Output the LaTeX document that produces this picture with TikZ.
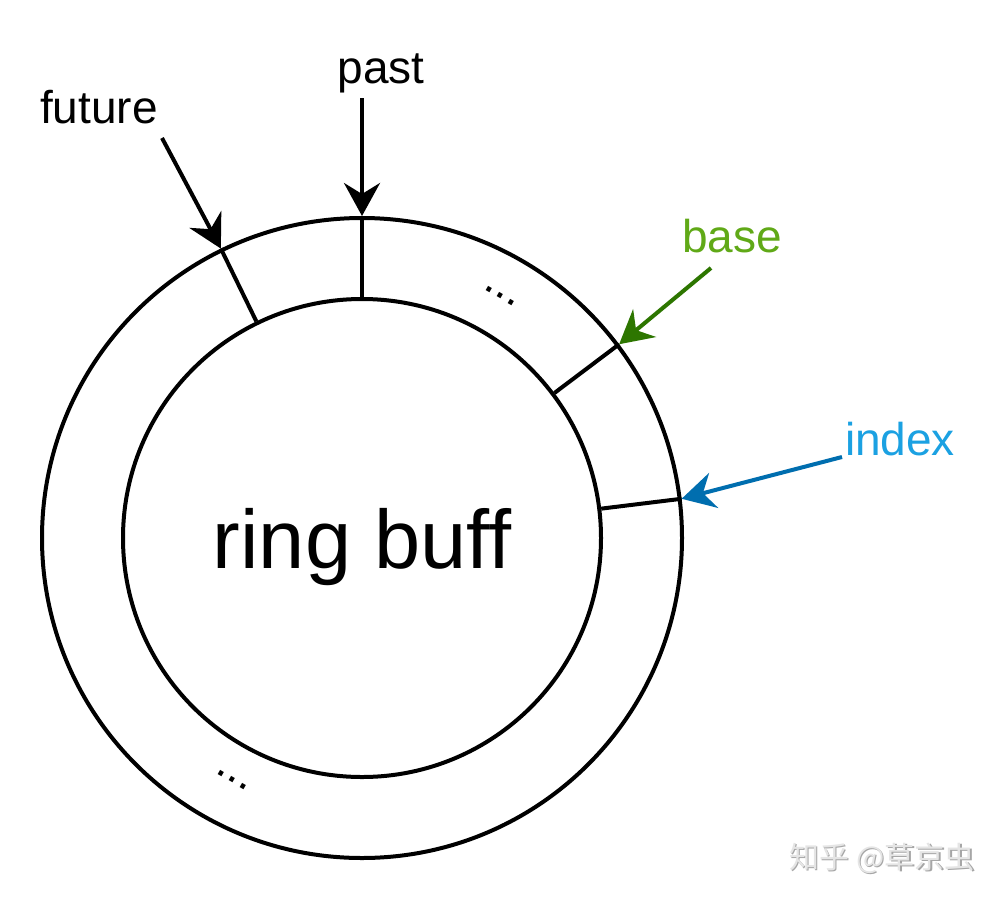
\documentclass[tikz,border=0pt]{standalone}
\usepackage{fontspec}
\setmainfont{Liberation Sans}
\newfontfamily\cjkfont{Noto Sans CJK SC}
\usetikzlibrary{arrows.meta}
\definecolor{basetext}{HTML}{60A917}
\definecolor{basearrow}{HTML}{2D7600}
\definecolor{idxtext}{HTML}{1BA1E2}
\definecolor{idxarrow}{HTML}{006EAF}
\tikzset{
  ringline/.style={line width=4pt, black},
  ringcircle/.style={circle, draw, line width=4pt, inner sep=0pt},
  pointer/.style={line width=4pt, -{Stealth[length=33pt, width=36pt, inset=11pt]}},
  lbl/.style={font=\fontsize{46}{50}\selectfont, anchor=base, inner sep=0pt},
  dotslbl/.style={font=\fontsize{46}{50}\selectfont, inner sep=0pt, rotate=-30},
  wm/.style={font=\cjkfont\fontsize{30}{34}\selectfont, inner sep=0pt}
}
\begin{document}
\begin{tikzpicture}[x=1pt, y=-1pt]
  \useasboundingbox (0,0) rectangle (1004,900);
  \fill[white] (0,0) rectangle (1004,900);

  % circles
  \node[ringcircle, minimum size=640pt] (outer) at (362,538) {};
  \node[ringcircle, minimum size=478pt] (inner) at (362,538) {};
  \node[font=\fontsize{83}{90}\selectfont, anchor=base, inner sep=0pt] (rb) at (362,568) {ring buff};

  % slot dividers
  \draw[ringline] (outer.116) -- (inner.116);
  \draw[ringline] (outer.90) -- (inner.90);
  \draw[ringline] (outer.37) -- (inner.37);
  \draw[ringline] (outer.7) -- (inner.7);

  % dots
  \node[dotslbl] (dtop) at (500,296) {...};
  \node[dotslbl] (dbot) at (232,780) {...};

  % labels
  \node[lbl] (past) at (381,83) {past};
  \node[lbl] (future) at (99,123) {future};
  \node[lbl, text=basetext] (base) at (732,252) {base};
  \node[lbl, text=idxtext] (index) at (900,455) {index};

  % arrow starts
  \coordinate (pastS) at (362,98);
  \coordinate (futS) at (162,138);
  \coordinate (baseS) at (711,268);
  \coordinate (idxS) at (842,457);

  \draw[pointer] (pastS) -- (outer.90);
  \draw[pointer] (futS) -- (outer.116);
  \draw[pointer, basearrow] (baseS) -- (outer.37.5);
  \draw[pointer, idxarrow] (idxS) -- (outer.7);

  % watermark
  \node[wm, text=black!35] (wmshadow) at (883.5,859.5) {知乎 @草京虫};
  \node[wm, text=black!10] (wmark) at (882,858) {知乎 @草京虫};
\end{tikzpicture}
\end{document}
